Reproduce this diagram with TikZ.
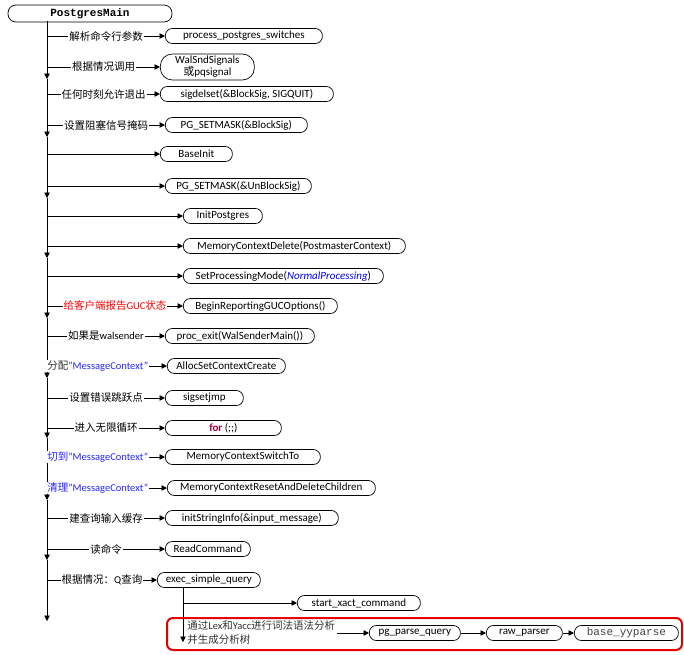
\documentclass[tikz,border=0pt]{standalone}
\usepackage{fontspec}
\setmainfont{Carlito}
\newfontfamily\cjk{Noto Sans CJK SC}
\newfontfamily\monof{Liberation Mono}
\usetikzlibrary{arrows.meta}
\tikzset{
  fn/.style={draw, rounded corners=7pt, minimum height=15pt, inner sep=1pt, anchor=west, font=\fontsize{11}{12}\selectfont},
  lbl/.style={fill=white, inner sep=1pt, font=\fontsize{10.5}{12}\selectfont},
  arr/.style={-{Triangle[length=5.5pt,width=5.5pt]}},
}
\newcommand{\fnbox}[5]{\node[fn, minimum width=#3pt-#2pt] (#1) at (#2,#4) {#5};}
\newcommand{\mc}{\symbol{34}MessageContext\symbol{34}}
\begin{document}
\begin{tikzpicture}[x=1pt, y=-1pt, line width=0.7pt]
  \useasboundingbox (0,0) rectangle (684,654);
  \node[draw, rounded corners=8pt, minimum width=164pt, minimum height=17pt, inner sep=0pt, font=\monof\bfseries\fontsize{11}{12}\selectfont] (main) at (90,13.5) {PostgresMain};
  % boxes
  \fnbox{b1}{165}{322}{36}{process\_postgres\_switches}
  \node[fn, minimum width=94pt, minimum height=26pt, rounded corners=12pt, align=center] (b2) at (160,67) {WalSndSignals\\{\cjk 或}pqsignal};
  \fnbox{b3}{160}{333}{94}{sigdelset(\&BlockSig, SIGQUIT)}
  \fnbox{b4}{165}{307}{125}{PG\_SETMASK(\&BlockSig)}
  \fnbox{b5}{160}{232}{154}{BaseInit}
  \fnbox{b6}{165}{311}{186}{PG\_SETMASK(\&UnBlockSig)}
  \fnbox{b7}{183}{262}{216}{InitPostgres}
  \fnbox{b8}{183}{405}{246}{MemoryContextDelete(PostmasterContext)}
  \fnbox{b9}{183}{383}{276}{SetProcessingMode(\textcolor{blue}{\itshape NormalProcessing})}
  \fnbox{b10}{183}{337}{306}{BeginReportingGUCOptions()}
  \fnbox{b11}{165}{314}{336}{proc\_exit(WalSenderMain())}
  \fnbox{b12}{167}{285}{366}{AllocSetContextCreate}
  \fnbox{b13}{165}{243}{398}{sigsetjmp}
  \fnbox{b14}{165}{281}{428}{\textcolor{purple!80!black}{\bfseries for} (;;)}
  \fnbox{b15}{165}{320}{457}{MemoryContextSwitchTo}
  \fnbox{b16}{167}{375}{488}{MemoryContextResetAndDeleteChildren}
  \fnbox{b17}{165}{338}{518}{initStringInfo(\&input\_message)}
  \fnbox{b18}{165}{250}{549}{ReadCommand}
  \fnbox{b19}{157}{260}{580}{exec\_simple\_query}
  \fnbox{b20}{297}{420}{603}{start\_xact\_command}
  \fnbox{b21}{369}{460}{633}{pg\_parse\_query}
  \fnbox{b22}{486}{562}{633}{raw\_parser}
  \node[fn, minimum width=104pt, font=\monof\fontsize{11}{12}\selectfont, text=black!75] (b23) at (574,633) {base\_yyparse};
  % spine
  \coordinate (s0) at (47,21);
  \foreach \y [count=\i] in {79,137,198,258,318,378,438,500,560,621} {
    \coordinate (s\i) at (47,\y);
  }
  \foreach \i [evaluate=\i as \j using int(\i-1)] in {1,...,10} {
    \draw[arr] (s\j) -- (s\i);
  }
  % branches
  \draw[arr] (b1.west -| s0) -- node[lbl]{\cjk 解析命令行参数} (b1);
  \draw[arr] (b2.west -| s0) -- node[lbl]{\cjk 根据情况调用} (b2);
  \draw[arr] (b3.west -| s0) -- node[lbl]{\cjk 任何时刻允许退出} (b3);
  \draw[arr] (b4.west -| s0) -- node[lbl]{\cjk 设置阻塞信号掩码} (b4);
  \foreach \b in {b5,b6,b7,b8,b9} {
    \draw[arr] (\b.west -| s0) -- (\b);
  }
  \draw[arr] (b10.west -| s0) -- node[lbl, text=red]{\cjk 给客户端报告\rmfamily GUC\cjk 状态} (b10);
  \draw[arr] (b11.west -| s0) -- node[lbl]{\cjk 如果是\rmfamily walsender} (b11);
  \node[lbl, anchor=west, text=blue!85!white] (l12) at (46,366) {{\cjk\color{black!80}分配}\mc};
  \draw[arr] (l12) -- (b12);
  \draw[arr] (b13.west -| s0) -- node[lbl]{\cjk 设置错误跳跃点} (b13);
  \draw[arr] (b14.west -| s0) -- node[lbl]{\cjk 进入无限循环} (b14);
  \node[lbl, anchor=west, text=blue!85!white] (l15) at (46,457) {{\cjk 切到}\mc};
  \draw[arr] (l15) -- (b15);
  \node[lbl, anchor=west, text=blue!85!white] (l16) at (46,488) {{\cjk 清理}\mc};
  \draw[arr] (l16) -- (b16);
  \draw[arr] (b17.west -| s0) -- node[lbl]{\cjk 建查询输入缓存} (b17);
  \draw[arr] (b18.west -| s0) -- node[lbl]{\cjk 读命令} (b18);
  \draw[arr] (b19.west -| s0) -- node[lbl]{\cjk 根据情况：\rmfamily Q\cjk 查询} (b19);
  % exec_simple_query
  \coordinate (q0) at (183,588);
  \coordinate (q1) at (183,642);
  \draw[arr] (q0) -- (q1);
  \draw[arr] (b20.west -| q0) -- (b20);
  \node[lbl, anchor=west, align=left, text=black!80, font=\fontsize{10.5}{14}\selectfont] (l21) at (186,633) {{\cjk 通过}Lex{\cjk 和}Yacc{\cjk 进行词法语法分析}\\{\cjk 并生成分析树}};
  \draw[arr] (l21) -- (b21);
  \draw[arr] (b21) -- (b22);
  \draw[arr] (b22) -- (b23);
  \draw[red!90!black, line width=2pt, rounded corners=6pt] (167,618) rectangle (682,650);
\end{tikzpicture}
\end{document}
